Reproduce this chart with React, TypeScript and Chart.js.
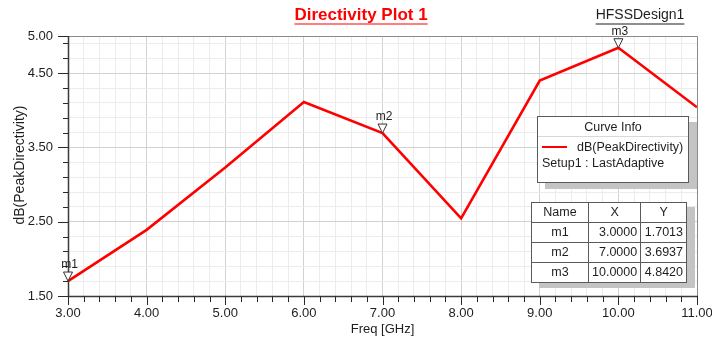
import React, { useEffect, useRef } from "react";
import { Chart, registerables } from "chart.js";

Chart.register(...registerables);

// ---- data ----
const freqGHz = [3, 4, 5, 6, 7, 8, 9, 10, 11];
const peakDirectivityDb = [1.7013, 2.39, 3.23, 4.11, 3.6937, 2.546, 4.4, 4.842, 4.04];
const xTickLabels = [3, 4, 5, 6, 7, 8, 9, 10, 11];
const yTickLabels = [1.5, 2.5, 3.5, 4.5, 5.0];
const markerNames = ["m1", "m2", "m3"];
const markerX = [3.0, 7.0, 10.0];
const markerY = [1.7013, 3.6937, 4.842];
const xMin = 3;
const xMax = 11;
const yMin = 1.5;
const yMax = 5.0;
const gridStep = 0.2;

const FONT = '"Liberation Sans", Arial, Helvetica, sans-serif';

function buildTicks(start: number, end: number, step: number) {
  const out: { value: number }[] = [];
  const n = Math.floor((end - start) / step + 1e-6);
  for (let i = 0; i <= n; i++) out.push({ value: Math.round((start + i * step) * 1e6) / 1e6 });
  if (Math.abs(out[out.length - 1].value - end) > 1e-6) out.push({ value: end });
  return out;
}

const isMajorX = (v: number) => Math.abs(v - Math.round(v)) < 1e-6;
const isMajorY = (v: number) => {
  const d = v - yMin;
  return Math.abs(d - Math.round(d)) < 1e-6 || Math.abs(v - yMax) < 1e-6;
};

const overlayPlugin = {
  id: "hfssOverlay",
  afterDraw(chart: any) {
    const { ctx, chartArea: a } = chart;
    const xs = chart.scales.x;
    const ys = chart.scales.y;
    ctx.save();

    // top & right border
    ctx.strokeStyle = "#8a8a8a";
    ctx.lineWidth = 1;
    ctx.beginPath();
    ctx.moveTo(a.left, a.top + 0.5);
    ctx.lineTo(a.right + 0.5, a.top + 0.5);
    ctx.lineTo(a.right + 0.5, a.bottom);
    ctx.stroke();

    // axis lines
    ctx.strokeStyle = "#3a3a3a";
    ctx.lineWidth = 1.5;
    ctx.beginPath();
    ctx.moveTo(a.left + 0.5, a.top);
    ctx.lineTo(a.left + 0.5, a.bottom + 0.5);
    ctx.lineTo(a.right + 1, a.bottom + 0.5);
    ctx.stroke();

    // tick marks
    ctx.strokeStyle = "#2a2a2a";
    ctx.lineWidth = 1;
    ctx.beginPath();
    for (const t of xs.ticks) {
      const px = Math.round(xs.getPixelForValue(t.value)) + 0.5;
      const len = isMajorX(t.value) ? 9 : 6;
      ctx.moveTo(px, a.bottom);
      ctx.lineTo(px, a.bottom + len);
    }
    for (const t of ys.ticks) {
      const py = Math.round(ys.getPixelForValue(t.value)) + 0.5;
      const len = isMajorY(t.value) ? 10 : 5;
      ctx.moveTo(a.left, py);
      ctx.lineTo(a.left - len, py);
    }
    ctx.stroke();

    // tick labels
    ctx.fillStyle = "#1e1e1e";
    ctx.font = `13px ${FONT}`;
    ctx.textAlign = "center";
    ctx.textBaseline = "middle";
    for (const v of xTickLabels) {
      ctx.fillText(v.toFixed(2), xs.getPixelForValue(v), a.bottom + 17);
    }
    ctx.textAlign = "right";
    for (const v of yTickLabels) {
      ctx.fillText(v.toFixed(2), a.left - 15, ys.getPixelForValue(v));
    }

    // axis titles
    ctx.textAlign = "center";
    ctx.fillText("Freq [GHz]", (a.left + a.right) / 2, 329);
    ctx.save();
    ctx.translate(20, (a.top + a.bottom) / 2 - 1);
    ctx.rotate(-Math.PI / 2);
    ctx.font = `14px ${FONT}`;
    ctx.fillText("dB(PeakDirectivity)", 0, 0);
    ctx.restore();

    // chart title (underlined)
    const drawUnderlined = (text: string, cx: number, cy: number, font: string, color: string) => {
      ctx.font = font;
      ctx.fillStyle = color;
      ctx.strokeStyle = color;
      ctx.textAlign = "center";
      ctx.textBaseline = "middle";
      ctx.fillText(text, cx, cy);
      const w = ctx.measureText(text).width;
      ctx.lineWidth = 1.2;
      ctx.beginPath();
      ctx.moveTo(cx - w / 2, cy + 9);
      ctx.lineTo(cx + w / 2, cy + 9);
      ctx.stroke();
    };
    drawUnderlined("Directivity Plot 1", 361, 15, `bold 17px ${FONT}`, "#ff0000");
    drawUnderlined("HFSSDesign1", 640, 15, `14px ${FONT}`, "#1e1e1e");

    // markers
    markerX.forEach((mx, i) => {
      const px = xs.getPixelForValue(mx);
      const py = ys.getPixelForValue(markerY[i]);
      ctx.beginPath();
      ctx.moveTo(px, py);
      ctx.lineTo(px - 4.5, py - 9);
      ctx.lineTo(px + 4.5, py - 9);
      ctx.closePath();
      ctx.fillStyle = "#ffffff";
      ctx.fill();
      ctx.strokeStyle = "#333333";
      ctx.lineWidth = 1;
      ctx.stroke();
      ctx.fillStyle = "#1e1e1e";
      ctx.font = `12px ${FONT}`;
      ctx.textAlign = "center";
      ctx.textBaseline = "bottom";
      ctx.fillText(markerNames[i], px + 1.5, py - 10);
    });

    ctx.restore();
  },
};

const cellStyle: React.CSSProperties = {
  border: "1px solid #5a5a5a",
  padding: "0 3px",
  height: 19,
  lineHeight: "19px",
};

export default function App() {
  const canvasRef = useRef<HTMLCanvasElement | null>(null);

  useEffect(() => {
    document.body.style.margin = "0";
    const canvas = canvasRef.current;
    if (!canvas) return;
    const chart = new Chart(canvas, {
      type: "line",
      data: {
        datasets: [
          {
            label: "dB(PeakDirectivity)",
            data: freqGHz.map((f, i) => ({ x: f, y: peakDirectivityDb[i] })),
            borderColor: "#ff0000",
            borderWidth: 2.6,
            pointRadius: 0,
            tension: 0,
            fill: false,
          },
        ],
      },
      options: {
        responsive: false,
        animation: false,
        devicePixelRatio: 1,
        layout: { padding: { left: 68, top: 36, right: 15, bottom: 44 } },
        plugins: {
          legend: { display: false },
          tooltip: { enabled: false },
          title: { display: false },
        },
        scales: {
          x: {
            type: "linear",
            min: xMin,
            max: xMax,
            afterBuildTicks: (s: any) => {
              s.ticks = buildTicks(xMin, xMax, gridStep);
            },
            ticks: { display: false },
            grid: {
              drawTicks: false,
              lineWidth: 1,
              color: (c: any) => (isMajorX(c.tick?.value ?? 0) ? "#d2d2d2" : "#ececec"),
            },
            border: { display: false },
          },
          y: {
            type: "linear",
            min: yMin,
            max: yMax,
            afterBuildTicks: (s: any) => {
              s.ticks = buildTicks(yMin, yMax, gridStep);
            },
            ticks: { display: false },
            grid: {
              drawTicks: false,
              lineWidth: 1,
              color: (c: any) => (isMajorY(c.tick?.value ?? 0) ? "#d2d2d2" : "#ececec"),
            },
            border: { display: false },
          },
        },
      },
      plugins: [overlayPlugin],
    } as any);
    return () => chart.destroy();
  }, []);

  return (
    <div style={{ position: "relative", width: 712, height: 340, fontFamily: FONT, color: "#1e1e1e" }}>
      <canvas ref={canvasRef} width={712} height={340} style={{ display: "block" }} />
      {/* Curve Info legend */}
      <div
        style={{
          position: "absolute",
          left: 537,
          top: 116,
          width: 150,
          height: 65,
          background: "#fff",
          border: "1px solid #5a5a5a",
          boxShadow: "8px 6px 0 #c4c4c4",
          fontSize: 12.5,
        }}
      >
        <div style={{ height: 19, lineHeight: "20px", textAlign: "center", borderBottom: "1px solid #d8d8d8" }}>
          Curve Info
        </div>
        <div style={{ display: "flex", alignItems: "center", height: 18, marginTop: 1, paddingLeft: 4 }}>
          <span style={{ display: "inline-block", width: 25, height: 2, background: "#ff0000", marginRight: 10 }} />
          <span>dB(PeakDirectivity)</span>
        </div>
        <div style={{ paddingLeft: 4, lineHeight: "14px" }}>Setup1 : LastAdaptive</div>
      </div>
      {/* Marker table */}
      <table
        style={{
          position: "absolute",
          left: 531,
          top: 202,
          width: 156,
          borderCollapse: "collapse",
          background: "#fff",
          boxShadow: "8px 5px 0 #c4c4c4",
          fontSize: 12.5,
          fontFamily: FONT,
          color: "#1e1e1e",
        }}
      >
        <tbody>
          <tr>
            <td style={{ ...cellStyle, width: 50, textAlign: "center" }}>Name</td>
            <td style={{ ...cellStyle, width: 45, textAlign: "center" }}>X</td>
            <td style={{ ...cellStyle, textAlign: "center" }}>Y</td>
          </tr>
          {markerNames.map((n, i) => (
            <tr key={n}>
              <td style={{ ...cellStyle, textAlign: "center" }}>{n}</td>
              <td style={{ ...cellStyle, textAlign: "right" }}>{markerX[i].toFixed(4)}</td>
              <td style={{ ...cellStyle, textAlign: "right" }}>{markerY[i].toFixed(4)}</td>
            </tr>
          ))}
        </tbody>
      </table>
    </div>
  );
}
